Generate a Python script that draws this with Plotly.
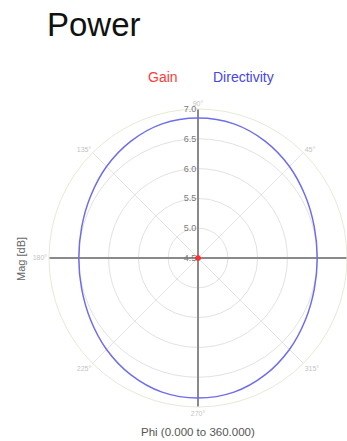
import plotly.graph_objects as go

W, H = 347, 441

# Azimuth angles (degrees) and measured magnitudes (dB)
phi_deg = [0, 15, 30, 45, 60, 75, 90, 105, 120, 135, 150, 165, 180,
           195, 210, 225, 240, 255, 270, 285, 300, 315, 330, 345, 360]
directivity_db = [6.50, 6.52, 6.58, 6.67, 6.76, 6.83, 6.85, 6.83, 6.76, 6.67, 6.58, 6.52, 6.50,
                  6.52, 6.58, 6.67, 6.76, 6.83, 6.85, 6.83, 6.76, 6.67, 6.58, 6.52, 6.50]
gain_phi_deg = [0, 90, 180, 270, 360]
gain_db = [4.5, 4.5, 4.5, 4.5, 4.5]

r_ticks = [4.5, 5.0, 5.5, 6.0, 6.5, 7.0]
r_min, r_max = 4.5, 7.0
phi_ticks = [45, 90, 135, 180, 225, 270, 315]

# Main cross through the origin
cross_r = [r_max, r_min, r_max]
cross_h_theta = [0, 0, 180]
cross_v_theta = [90, 90, 270]

fig = go.Figure()

for th in (cross_h_theta, cross_v_theta):
    fig.add_trace(go.Scatterpolar(
        r=cross_r, theta=th, mode="lines",
        line=dict(color="#8a8a8a", width=2),
        showlegend=False, hoverinfo="skip"))

fig.add_trace(go.Scatterpolar(
    r=directivity_db, theta=phi_deg, mode="lines", name="Directivity",
    line=dict(color="rgb(110,110,235)", width=1.5, shape="spline"),
    showlegend=False))

fig.add_trace(go.Scatterpolar(
    r=gain_db, theta=gain_phi_deg, mode="lines+markers", name="Gain",
    line=dict(color="#ff3030", width=2),
    marker=dict(color="#ff3030", size=5),
    showlegend=False))

# Square polar area, radius ~149 px, centred at (198, 258)
px_left, px_right = 49, 347
px_top, px_bottom = 109, 407

fig.update_layout(
    width=W, height=H,
    margin=dict(l=0, r=0, t=0, b=0),
    paper_bgcolor="white",
    plot_bgcolor="white",
    showlegend=False,
    font=dict(family="Liberation Sans, Arial, sans-serif"),
    polar=dict(
        domain=dict(x=[px_left / W, px_right / W],
                    y=[1 - px_bottom / H, 1 - px_top / H]),
        bgcolor="white",
        radialaxis=dict(
            range=[r_min, r_max],
            tickvals=r_ticks,
            ticktext=[f"{v:.1f}" for v in r_ticks],
            angle=90,
            tickangle=90,
            side="counterclockwise",
            showline=False,
            ticks="",
            gridcolor="#e2e2e2",
            gridwidth=1,
            tickfont=dict(size=9, color="#7a7a7a"),
        ),
        angularaxis=dict(
            rotation=0,
            direction="counterclockwise",
            tickvals=phi_ticks,
            ticktext=[f"{v}°" for v in phi_ticks],
            ticks="",
            showline=True,
            linecolor="#e9e9d6",
            linewidth=1,
            gridcolor="#e4e4e4",
            gridwidth=1,
            tickfont=dict(size=7, color="#c4c4c4"),
        ),
    ),
)

annotations = [
    dict(text="Power", x=45 / W, y=1 - 25 / H, xref="paper", yref="paper",
         xanchor="left", yanchor="middle", showarrow=False,
         font=dict(size=33, color="#111111")),
    dict(text="Gain", x=163 / W, y=1 - 77 / H, xref="paper", yref="paper",
         xanchor="center", yanchor="middle", showarrow=False,
         font=dict(size=14, color="#ff3b3b")),
    dict(text="Directivity", x=243 / W, y=1 - 77 / H, xref="paper", yref="paper",
         xanchor="center", yanchor="middle", showarrow=False,
         font=dict(size=14, color="#4646e6")),
    dict(text="Mag [dB]", x=21 / W, y=1 - 259 / H, xref="paper", yref="paper",
         xanchor="center", yanchor="middle", showarrow=False, textangle=-90,
         font=dict(size=11, color="#666666")),
    dict(text="Phi (0.000 to 360.000)", x=198 / W, y=1 - 432 / H, xref="paper", yref="paper",
         xanchor="center", yanchor="middle", showarrow=False,
         font=dict(size=11.5, color="#555555")),
]
fig.update_layout(annotations=annotations)

fig.write_html("out.html")
